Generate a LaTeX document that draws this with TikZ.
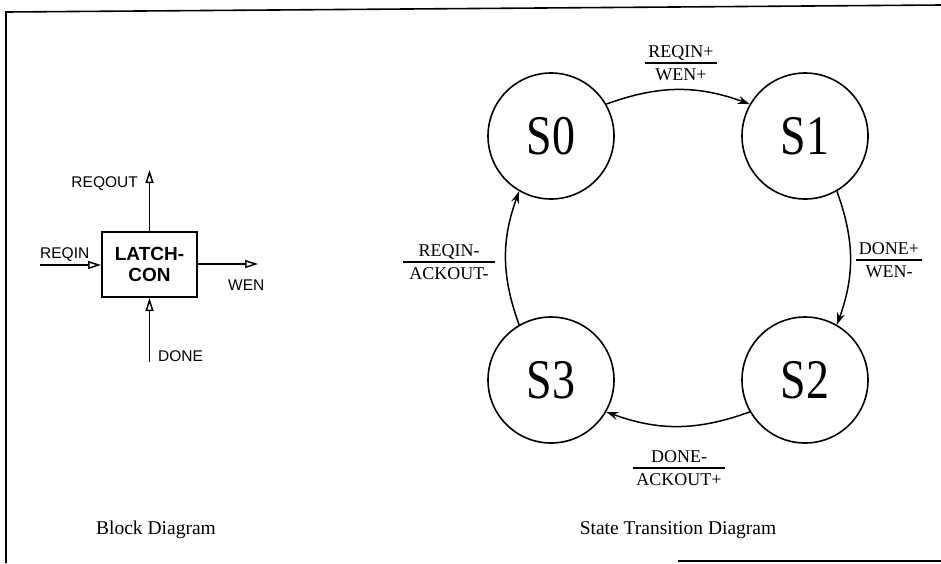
\documentclass[tikz,border=0pt]{standalone}
\usepackage{fontspec}
\usepackage{graphicx}
\setmainfont{Liberation Serif}
\newfontfamily\hv{Liberation Sans}
\usetikzlibrary{arrows.meta}
\newcommand{\frc}[3]{\vbox{\hbox to #1{\hfil\vrule height 12pt depth 0pt width 0pt\smash{#2}\hfil}\kern5pt\hrule height 1.3pt width #1\kern5pt\hbox to #1{\hfil\vrule height 12pt depth 0pt width 0pt\smash{#3}\hfil}}}
\newcommand{\stx}[1]{\scalebox{0.82}[1]{#1}}
\tikzset{
 state/.style={circle, draw, line width=1.6pt, minimum size=126pt, inner sep=0pt, font=\fontsize{56}{56}\selectfont},
 trans/.style={-{Stealth[length=12pt,width=8pt]}, line width=1.5pt, bend left=20},
 elabel/.style={inner sep=0pt, font=\fontsize{18}{20}\selectfont},
 blk/.style={draw, line width=2pt, minimum width=95pt, minimum height=65pt, inner sep=0pt, font=\hv\bfseries\fontsize{19}{21}\selectfont, align=center},
 sig/.style={line width=1.8pt},
 sigarrow/.style={sig, -{Triangle[open, length=13pt, width=8pt, line width=1.5pt]}},
 siglabel/.style={inner sep=0pt, font=\hv\fontsize{15.5}{16}\selectfont},
 captext/.style={inner sep=0pt, font=\fontsize{19.5}{22}\selectfont},
 frameline/.style={line width=1.6pt},
}
\begin{document}
\begin{tikzpicture}[x=1pt,y=-1pt]
\useasboundingbox (0,0) rectangle (941,563);
% frame
\coordinate (fTL) at (6,12);
\coordinate (fTR) at (941,5);
\coordinate (fBL) at (6,563);
\draw[frameline] (fBL) -- (fTL) -- (fTR);
\coordinate (bA) at (678,561);
\coordinate (bB) at (941,561);
\draw[frameline] (bA) -- (bB);
% block diagram
\node[blk] (lc) at (149.5,264.5) {LATCH-\\CON};
\coordinate (rqoTop) at (149.5,170);
\draw[sigarrow] (lc.north) -- (rqoTop);
\coordinate (rqiStart) at (40,265);
\draw[sigarrow] (rqiStart) -- (lc.west |- rqiStart);
\coordinate (wenEnd) at (258,264);
\draw[sigarrow] (lc.east |- wenEnd) -- (wenEnd);
\coordinate (doneStart) at (149.5,362);
\draw[sigarrow] (doneStart) -- (lc.south);
\node[siglabel, anchor=base east] (lREQOUT) at (138,187) {REQOUT};
\node[siglabel, anchor=base west] (lREQIN) at (40,258) {REQIN};
\node[siglabel, anchor=base west] (lWEN) at (228,290) {WEN};
\node[siglabel, anchor=base west] (lDONE) at (158,361) {DONE};
% states
\node[state] (S0) at (551,136) {\stx{S0}};
\node[state] (S1) at (805,136) {\stx{S1}};
\node[state] (S2) at (805,380) {\stx{S2}};
\node[state] (S3) at (551,380) {\stx{S3}};
\draw[trans] (S0.30) to (S1.150);
\draw[trans] (S1.-60) to (S2.60);
\draw[trans] (S2.210) to (S3.-30);
\draw[trans] (S3.120) to (S0.240);
\node[elabel] (t01) at (681,63) {\frc{72pt}{REQIN+}{WEN+}};
\node[elabel] (t12) at (889,260) {\frc{66pt}{DONE+}{WEN-}};
\node[elabel] (t23) at (679,468) {\frc{92pt}{DONE-}{ACKOUT+}};
\node[elabel] (t30) at (449,262) {\frc{92pt}{REQIN-}{ACKOUT-}};
% captions
\node[captext, anchor=base] (capB) at (156,534) {Block Diagram};
\node[captext, anchor=base] (capS) at (678,534) {State Transition Diagram};
\end{tikzpicture}
\end{document}
